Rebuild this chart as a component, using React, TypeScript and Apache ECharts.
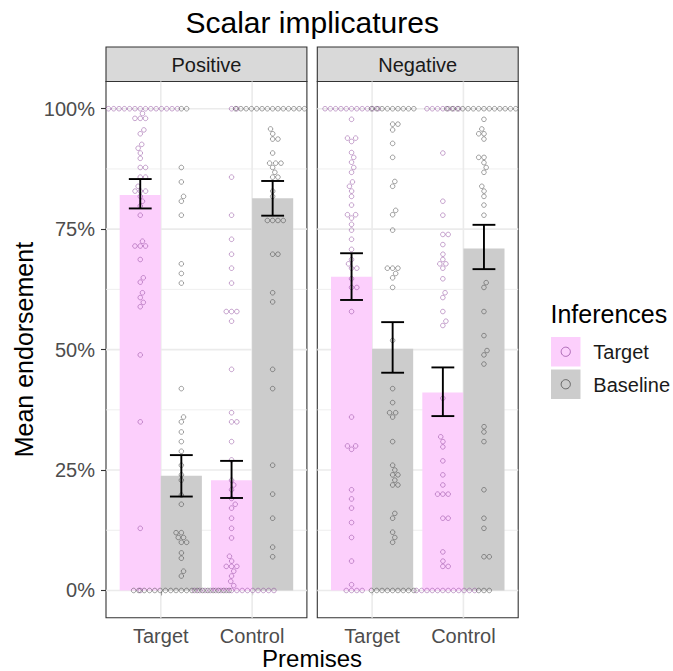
import React, { useEffect, useRef } from "react";
import * as echarts from "echarts";

// ---------- data ----------
const chartTitle = "Scalar implicatures";
const facetNames = ["Positive", "Negative"];
const premiseLabels = ["Target", "Control"];
const inferenceLabels = ["Target", "Baseline"];
const yTickValues = [0, 25, 50, 75, 100];
const yMinorValues = [12.5, 37.5, 62.5, 87.5];
const xAxisTitle = "Premises";
const yAxisTitle = "Mean endorsement";
const legendTitle = "Inferences";

// [premise][inference]
const positiveMean = [[82.1, 23.8], [22.9, 81.4]];
const positiveLow = [[79.3, 19.5], [19.2, 77.8]];
const positiveHigh = [[85.4, 28.1], [26.9, 85.0]];
const negativeMean = [[65.1, 50.2], [41.1, 71.0]];
const negativeLow = [[60.3, 45.2], [36.2, 66.7]];
const negativeHigh = [[70.0, 55.7], [46.3, 75.9]];

// individual responses (percent)
const positiveTargetTarget = [
  100, 100, 100, 100, 100, 100, 100, 100, 100, 100, 100, 100, 100, 100,
  99, 98, 98, 98, 95.6, 94.8, 92.6, 91.8, 90.8, 89.7, 87.8, 87.8, 85.8, 85.8,
  83.9, 82.9, 82.9, 82.9, 81.8, 80.8, 79.8, 77.9, 72.5, 71.5, 71.5, 71.5, 68.7,
  64.9, 64, 61.8, 60.8, 59.8, 58.9, 48.9, 35, 12.9, 0,
];
const positiveTargetBaseline = [
  100, 100, 87.8, 84.8, 81.8, 80.8, 77.9, 67.8, 65.8, 63.8, 41.9, 36, 35, 32.9,
  30.9, 28.9, 26, 24, 22.9, 19.8, 17.9, 12, 12, 11, 11, 10, 10, 7.8, 6.7, 4, 3,
  0, 0, 0, 0, 0, 0, 0, 0, 0, 0, 0, 0, 0, 0, 0, 0, 0, 0, 0,
];
const positiveControlTarget = [
  100, 100, 85.8, 77.9, 72.9, 69.8, 66.9, 63.8, 57.9, 57.9, 57.9, 55.9, 45.9,
  36.9, 35, 35, 30.9, 27.1, 22.9, 21.9, 20.9, 19.1, 17.9, 17.1, 15, 12.9, 10.9,
  7.1, 6.1, 5, 5, 5, 4, 3, 1.9, 1,
  0, 0, 0, 0, 0, 0, 0, 0, 0, 0, 0, 0, 0, 0, 0, 0,
];
const positiveControlBaseline = [
  100, 100, 100, 100, 100, 100, 100, 100, 100, 100, 100, 100, 100, 100, 100,
  95.8, 94.8, 93.7, 93.7, 90.8, 88.7, 88.7, 88.7, 87.8, 86.8, 85.8, 85.8, 82.9,
  81.8, 76.8, 76.8, 76.8, 76.8, 69.8, 69.8, 61.8, 59.9, 45.9, 41.9, 26, 20, 15,
  9, 7,
];
const negativeTargetTarget = [
  100, 100, 100, 100, 100, 100, 100, 100, 100, 100, 100,
  97.8, 93.9, 93.9, 93.2, 90.9, 89.9, 88.9, 87.8, 86.8, 84.8, 83.9, 82.9, 81.8,
  80, 78, 78, 77.3, 76, 74.8, 72.9, 70.8, 68.7, 67.8, 66.9, 66.9, 64.7, 62.9,
  62.9, 57.9, 36, 30, 30, 29.3, 20.9, 19, 17.1, 14.1, 11, 6.1, 1.2, 0, 0, 0, 0,
];
const negativeTargetBaseline = [
  100, 100, 100, 100, 100, 100, 100, 100, 100,
  96.8, 96.8, 95.6, 92.8, 89.9, 84.9, 83.9, 78.9, 78, 74.8, 66.9, 66.9, 66.9,
  65.8, 64.9, 62.9, 51.9, 41.9, 39, 36.9, 36.9, 36, 30.9, 26, 25, 24, 24, 22.9,
  21.9, 21.9, 16, 15, 12.1, 11, 10, 0, 0, 0, 0, 0, 0, 0, 0, 0,
];
const negativeControlTarget = [
  100, 100, 100, 100, 100, 100, 100,
  90.8, 80.8, 77.9, 73.9, 73.9, 71.8, 69.8, 68.7, 67.8, 67.8, 66.9, 64.7, 61.8,
  60.8, 57.9, 55.9, 55, 39.9, 31.9, 30.9, 29.8, 26.9, 24, 21.9, 20, 20, 20, 15,
  15, 8, 6.1, 5, 5, 0, 0, 0, 0, 0, 0, 0, 0, 0, 0, 0, 0,
];
const negativeControlBaseline = [
  100, 100, 100, 100, 100, 100, 100, 100, 100, 100, 100, 100, 100, 100, 100,
  97.8, 95.8, 94.8, 94.8, 93.7, 89.9, 89.9, 88.8, 87.8, 86.8, 83.9, 82.9, 81.8,
  80, 77.9, 63.9, 62.9, 57.9, 52.9, 49.8, 48.9, 47, 34, 32.9, 30.9, 20.9, 15,
  12.9, 7, 7, 0, 0, 0,
];

// ---------- layout & style ----------
const FONT = '"Liberation Sans", Arial, Helvetica, sans-serif';
const GRID_LEFT = [106, 317.3];
const GRID_TOP = 81.5;
const GRID_W = 200.9;
const GRID_H = 536.2;
const X_MIN = 0.4;
const X_MAX = 2.6;
const Y_MIN = -5.65;
const Y_MAX = 105.65;
const DODGE = [-0.225, 0.225];
const HALF_BAR = 0.225;
const CAP = 0.125;
const BAR_COLORS = ["#fccffc", "#cccccc"];
const POINT_COLORS = ["rgba(125,45,140,0.6)", "rgba(45,45,45,0.62)"];
const POINT_D = 5.3;

function swarmOffsets(values: number[], dPx: number, pxPerX: number, pxPerY: number): number[] {
  const order = values.map((_, i) => i).sort((a, b) => values[a] - values[b]);
  const placed: { x: number; y: number }[] = [];
  const out = new Array(values.length).fill(0);
  for (const i of order) {
    const y = values[i] * pxPerY;
    const near = placed.filter((p) => Math.abs(p.y - y) < dPx);
    const cands = [0];
    for (const p of near) {
      const dx = Math.sqrt(dPx * dPx - (p.y - y) * (p.y - y));
      cands.push(p.x + dx, p.x - dx);
    }
    cands.sort((a, b) => Math.abs(a) - Math.abs(b));
    let chosen = 0;
    for (const c of cands) {
      if (near.every((p) => (p.x - c) * (p.x - c) + (p.y - y) * (p.y - y) >= dPx * dPx - 1e-6)) {
        chosen = c;
        break;
      }
    }
    placed.push({ x: chosen, y });
    out[i] = chosen / pxPerX;
  }
  return out;
}

export default function App() {
  const ref = useRef<HTMLDivElement>(null);
  useEffect(() => {
    if (!ref.current) return;
    const chart = echarts.init(ref.current, null, { renderer: "svg" });
    const facets = [
      {
        mean: positiveMean, low: positiveLow, high: positiveHigh,
        points: [[positiveTargetTarget, positiveTargetBaseline], [positiveControlTarget, positiveControlBaseline]],
      },
      {
        mean: negativeMean, low: negativeLow, high: negativeHigh,
        points: [[negativeTargetTarget, negativeTargetBaseline], [negativeControlTarget, negativeControlBaseline]],
      },
    ];
    const pxPerX = GRID_W / (X_MAX - X_MIN);
    const pxPerY = GRID_H / (Y_MAX - Y_MIN);

    const grids: any[] = [];
    const xAxes: any[] = [];
    const yAxes: any[] = [];
    const series: any[] = [];

    facets.forEach((fd, f) => {
      grids.push({
        left: GRID_LEFT[f], top: GRID_TOP, width: GRID_W, height: GRID_H,
        show: true, borderColor: "#333333", borderWidth: 1.1, backgroundColor: "transparent",
      });
      xAxes.push({
        type: "value", gridIndex: f, min: X_MIN, max: X_MAX,
        axisLine: { show: false }, splitLine: { show: false },
        axisTick: { show: true, customValues: [1, 2], length: 5, lineStyle: { color: "#333333", width: 1.1 } },
        axisLabel: {
          show: true, customValues: [1, 2], margin: 8,
          formatter: (v: number) => premiseLabels[Math.round(v) - 1] || "",
          color: "#4d4d4d", fontSize: 20, fontFamily: FONT,
        },
      });
      yAxes.push({
        type: "value", gridIndex: f, min: Y_MIN, max: Y_MAX,
        axisLine: { show: false }, splitLine: { show: false },
        axisTick: { show: f === 0, customValues: yTickValues, length: 5, lineStyle: { color: "#333333", width: 1.1 } },
        axisLabel: {
          show: f === 0, customValues: yTickValues, margin: 11,
          formatter: (v: number) => `${v}%`,
          color: "#4d4d4d", fontSize: 20, fontFamily: FONT,
        },
      });

      // grid lines
      const gridData: number[][] = [
        ...yMinorValues.map((v) => [0, v, 0]),
        ...yTickValues.map((v) => [0, v, 1]),
        ...premiseLabels.map((_, i) => [1, i + 1, 1]),
      ];
      series.push({
        type: "custom", xAxisIndex: f, yAxisIndex: f, silent: true, z: 1,
        data: gridData,
        renderItem: (params: any, api: any) => {
          const o = api.value(0);
          const v = api.value(1);
          const major = api.value(2);
          let a, b;
          if (o === 0) { a = api.coord([X_MIN, v]); b = api.coord([X_MAX, v]); }
          else { a = api.coord([v, Y_MIN]); b = api.coord([v, Y_MAX]); }
          return {
            type: "line",
            shape: { x1: a[0], y1: a[1], x2: b[0], y2: b[1] },
            style: { stroke: "#ebebeb", lineWidth: major ? 1.6 : 0.8 },
          };
        },
      });

      // bars
      inferenceLabels.forEach((inf, j) => {
        series.push({
          type: "custom", name: inf, xAxisIndex: f, yAxisIndex: f, silent: true, z: 2,
          data: premiseLabels.map((_, i) => [i + 1 + DODGE[j], fd.mean[i][j]]),
          renderItem: (params: any, api: any) => {
            const x = api.value(0);
            const v = api.value(1);
            const p1 = api.coord([x - HALF_BAR, v]);
            const p2 = api.coord([x + HALF_BAR, 0]);
            return {
              type: "rect",
              shape: { x: p1[0], y: p1[1], width: p2[0] - p1[0], height: p2[1] - p1[1] },
              style: { fill: BAR_COLORS[j] },
            };
          },
        });
      });

      // points (beeswarm)
      inferenceLabels.forEach((inf, j) => {
        const data: number[][] = [];
        premiseLabels.forEach((_, i) => {
          const vals = fd.points[i][j];
          const offs = swarmOffsets(vals, POINT_D, pxPerX, pxPerY);
          vals.forEach((v, k) => data.push([i + 1 + DODGE[j] + offs[k], v]));
        });
        series.push({
          type: "scatter", name: inf, xAxisIndex: f, yAxisIndex: f, z: 3, silent: true,
          symbol: "circle", symbolSize: 4.6, clip: true,
          itemStyle: { color: "rgba(255,255,255,0)", borderColor: POINT_COLORS[j], borderWidth: 0.9 },
          data,
        });
      });

      // error bars
      const errData: number[][] = [];
      premiseLabels.forEach((_, i) => {
        inferenceLabels.forEach((__, j) => {
          errData.push([i + 1 + DODGE[j], fd.low[i][j], fd.high[i][j]]);
        });
      });
      series.push({
        type: "custom", xAxisIndex: f, yAxisIndex: f, silent: true, z: 4,
        data: errData,
        renderItem: (params: any, api: any) => {
          const x = api.value(0);
          const lo = api.value(1);
          const hi = api.value(2);
          const top = api.coord([x, hi]);
          const bot = api.coord([x, lo]);
          const tl = api.coord([x - CAP, hi]);
          const tr = api.coord([x + CAP, hi]);
          const bl = api.coord([x - CAP, lo]);
          const br = api.coord([x + CAP, lo]);
          const st = { stroke: "#000000", lineWidth: 1.9 };
          return {
            type: "group",
            children: [
              { type: "line", shape: { x1: top[0], y1: top[1], x2: bot[0], y2: bot[1] }, style: st },
              { type: "line", shape: { x1: tl[0], y1: tl[1], x2: tr[0], y2: tr[1] }, style: st },
              { type: "line", shape: { x1: bl[0], y1: bl[1], x2: br[0], y2: br[1] }, style: st },
            ],
          };
        },
      });
    });

    const txt = (text: string, x: number, y: number, size: number, color: string, align = "center", extra: any = {}) => ({
      type: "text", x, y, silent: true, ...extra,
      style: {
        text, fontSize: size, fontFamily: FONT, fill: color,
        align, textAlign: align, verticalAlign: "middle", textVerticalAlign: "middle",
      },
    });

    const graphic: any[] = [
      txt(chartTitle, 312.2, 22, 30, "#000000"),
      txt(yAxisTitle, 24, GRID_TOP + GRID_H / 2, 25, "#000000", "center", { rotation: Math.PI / 2 }),
      txt(xAxisTitle, (GRID_LEFT[0] + GRID_LEFT[1] + GRID_W) / 2, 658.5, 24, "#000000"),
      txt(legendTitle, 550.5, 313.5, 25, "#000000", "left"),
    ];
    facetNames.forEach((name, f) => {
      graphic.push({
        type: "rect", silent: true,
        shape: { x: GRID_LEFT[f], y: 47, width: GRID_W, height: GRID_TOP - 47 },
        style: { fill: "#d9d9d9", stroke: "#333333", lineWidth: 1.1 },
      });
      graphic.push(txt(name, GRID_LEFT[f] + GRID_W / 2, 64.5, 20, "#1a1a1a"));
    });
    const keyY = [337, 369.5];
    inferenceLabels.forEach((lab, j) => {
      graphic.push({
        type: "rect", silent: true,
        shape: { x: 551, y: keyY[j], width: 29.5, height: 29.5 },
        style: { fill: BAR_COLORS[j] },
      });
      graphic.push({
        type: "circle", silent: true,
        shape: { cx: 565.75, cy: keyY[j] + 14.75, r: 4.6 },
        style: { fill: "none", stroke: POINT_COLORS[j], lineWidth: 1 },
      });
      graphic.push(txt(lab, 593.3, keyY[j] + 15, 20, "#1a1a1a", "left"));
    });

    chart.setOption({
      animation: false,
      backgroundColor: "#ffffff",
      textStyle: { fontFamily: FONT },
      grid: grids,
      xAxis: xAxes,
      yAxis: yAxes,
      series,
      graphic,
    });
    return () => chart.dispose();
  }, []);

  return (
    <div
      ref={ref}
      style={{ position: "fixed", left: 0, top: 0, width: 673, height: 671, background: "#fff" }}
    />
  );
}
